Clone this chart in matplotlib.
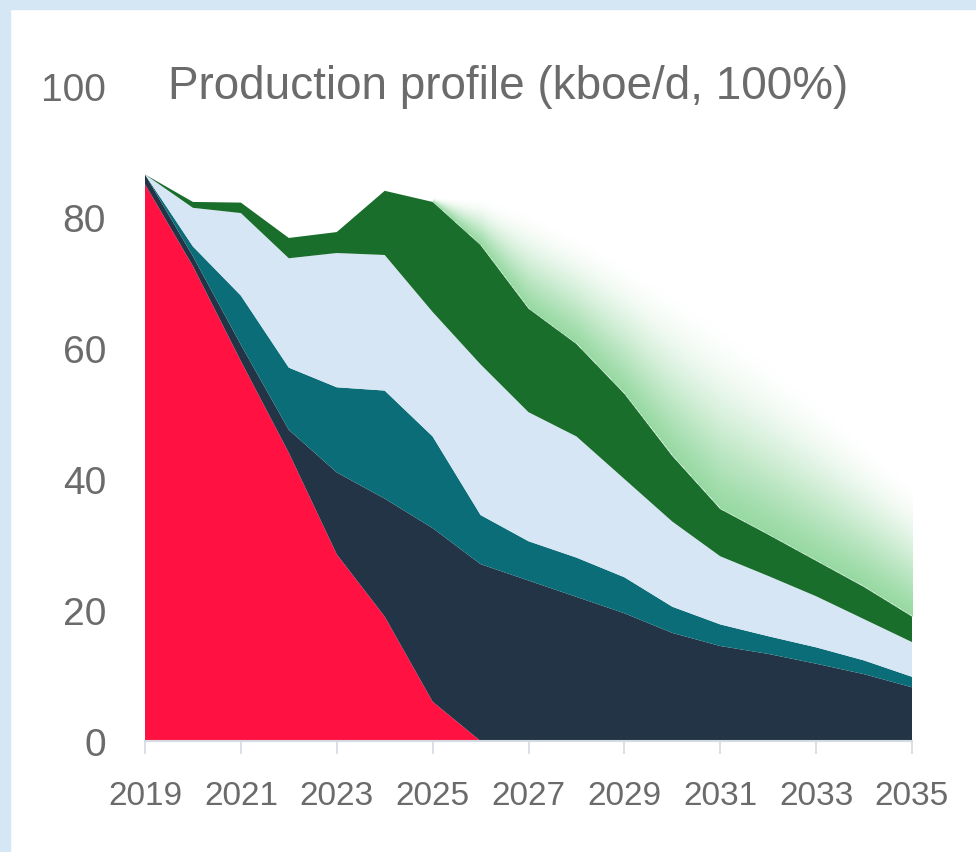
import numpy as np
import matplotlib
matplotlib.use("Agg")
import matplotlib.pyplot as plt
from matplotlib.patches import Rectangle

# ---------------------------------------------------
# Data (kboe/d, 100%)
# ---------------------------------------------------
years = list(range(2019, 2036))

# layer thickness per year, bottom to top
producing = [85, 72.5, 58, 44, 28.5, 19, 6, 0, 0, 0, 0, 0, 0, 0, 0, 0, 0]
layer2 = [1.5, 1.5, 2.5, 3.5, 12.5, 18, 26.5, 27, 24.5, 22, 19.5, 16.5, 14.5, 13.3, 11.8, 10.2, 8.2]
layer3 = [0, 1.5, 7.5, 9.5, 13, 16.5, 14, 7.5, 6, 6, 5.5, 4, 3.3, 2.7, 2.5, 2.1, 1.6]
layer4 = [0, 5.9, 12.6, 16.7, 20.5, 20.7, 19, 23, 19.7, 18.5, 15, 13, 10.4, 9.2, 7.8, 6.3, 5.3]
layer5 = [0, 0.9, 1.6, 3.1, 3.2, 9.8, 16.8, 18.2, 15.8, 14.1, 13, 10, 7.2, 6.3, 5.4, 4.9, 3.9]

# upside (faded green) top edge
upside_years = list(range(2025, 2036))
upside_top = [83, 83, 81, 77.5, 73.5, 69, 64, 58.5, 52.5, 46, 39.5]

layer_colors = ["#ff1242", "#243447", "#0b6d78", "#d6e6f4", "#1a6e2c"]

title = "Production profile (kboe/d, 100%)"
xticks = list(range(2019, 2036, 2))
yticks = [0, 20, 40, 60, 80, 100]

text_grey = "#6b6b6b"
axis_grey = "#d3dae2"

plt.rcParams["font.family"] = ["Liberation Sans", "DejaVu Sans"]

fig = plt.figure(figsize=(9.76, 8.53), dpi=100)
fig.patch.set_facecolor("white")

# light blue frame on top and left
fig.patches.append(Rectangle((0, 1 - 10 / 853), 1, 10 / 853, transform=fig.transFigure,
                             color="#d5e7f5", zorder=0))
fig.patches.append(Rectangle((0, 0), 10 / 976, 1, transform=fig.transFigure,
                             color="#d5e7f5", zorder=0))

ax = fig.add_axes([145 / 976, 111 / 853, 767 / 976, 655 / 853])

# stacked areas
ax.stackplot(years, producing, layer2, layer3, layer4, layer5,
             colors=layer_colors, linewidth=0, zorder=3)

# faded upside above the stack
stack_top = np.sum([producing, layer2, layer3, layer4, layer5], axis=0)
gx = np.linspace(upside_years[0], upside_years[-1], 500)
gy = np.linspace(0, 100, 700)
lower = np.interp(gx, years, stack_top)
upper = np.interp(gx, upside_years, upside_top)
X, Y = np.meshgrid(gx, gy)
t = (Y - lower[None, :]) / np.maximum(upper - lower, 1e-6)[None, :]
s = np.clip(1 - t, 0, 1)
alpha = np.where((t >= 0) & (t <= 1), 0.8 * s ** 0.9 * (3 * s ** 2 - 2 * s ** 3) ** 0.5, 0)
img = np.zeros((len(gy), len(gx), 4))
img[..., 0] = 0x7c / 255
img[..., 1] = 0xcf / 255
img[..., 2] = 0x8a / 255
img[..., 3] = alpha
ax.imshow(img, extent=(gx[0], gx[-1], 0, 100), origin="lower",
          aspect="auto", interpolation="bilinear", zorder=2)

ax.set_xlim(2019, 2035)
ax.set_ylim(0, 100)

# axes styling
for side in ["top", "right", "left"]:
    ax.spines[side].set_visible(False)
ax.spines["bottom"].set_color(axis_grey)
ax.spines["bottom"].set_linewidth(1.5)
ax.spines["bottom"].set_zorder(4)

ax.set_xticks(xticks)
ax.set_xticklabels([str(x) for x in xticks])
ax.set_yticks(yticks)
ax.set_yticklabels([str(y) for y in yticks])
ax.tick_params(axis="x", length=9, width=1.2, color=axis_grey, pad=19,
               labelsize=24, labelcolor=text_grey)
ax.tick_params(axis="y", length=0, pad=28, labelsize=28, labelcolor=text_grey)

ax.text(23 / 767, 1.0, title, transform=ax.transAxes, ha="left", va="center",
        fontsize=33, color=text_grey)

fig.savefig("out.png", dpi=100, facecolor=fig.get_facecolor())
